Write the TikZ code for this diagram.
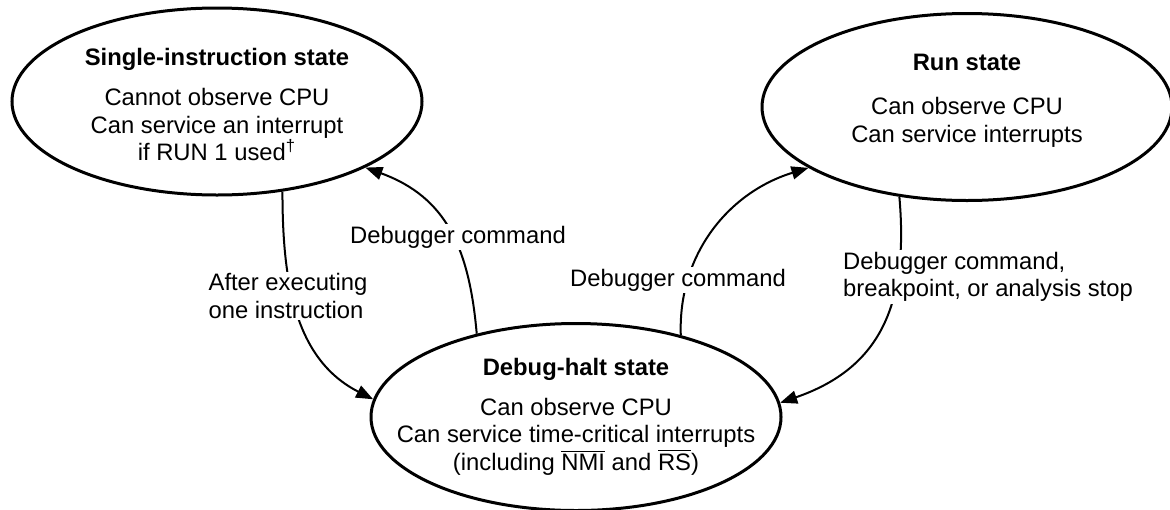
\documentclass[tikz,border=0pt]{standalone}
\usepackage{fontspec}
\setmainfont{Liberation Sans}
\usetikzlibrary{shapes.geometric, arrows.meta}

\begin{document}
\begin{tikzpicture}[x=0.5pt, y=-0.5pt, >={Triangle[length=8.5pt, width=6.5pt]},
  every node/.style={font=\fontsize{11.9}{13.75}\selectfont},
  state/.style={ellipse, draw, line width=1.5pt, inner sep=0pt, minimum width=205pt, minimum height=93.5pt},
  trans/.style={->, line width=1pt},
  lbl/.style={fill=white, inner sep=1pt, align=center}]
  \useasboundingbox (0,0) rectangle (1170,509);
  % States
  \node[state] (single) at (217,101.5) {};
  \node[state] (run) at (967,107) {};
  \node[state] (debug) at (576,417) {};
  % State texts
  \node[align=center] (singletxt) at (217,104.5) {\textbf{Single-instruction state}\\[6.25pt]
    Cannot observe CPU\\ Can service an interrupt\\ if RUN 1 used\textsuperscript{†}};
  \node[align=center] (runtxt) at (967,101) {\textbf{Run state}\\[8.25pt]
    Can observe CPU\\ Can service interrupts};
  \node[align=center] (debugtxt) at (576,416.5) {\textbf{Debug-halt state}\\[6.25pt]
    Can observe CPU\\ Can service time-critical interrupts\\
    (including $\overline{\mbox{NMI}}$ and $\overline{\mbox{RS}}$)};
  % Transitions
  \draw[trans] (single.-54) to[out=-90, in=153] (debug.175);
  \draw[trans] (debug.140.5) to[out=95, in=-20, looseness=1.1] (single.-24);
  \draw[trans] (debug.38.4) to[out=92, in=197] (run.201.3);
  \draw[trans] (run.-127.5) to[out=-85, in=19, looseness=1.15] (debug.4.8);
  % Labels
  \node[lbl, align=left] (afterlbl) at (288,296) {After executing\\one instruction};
  \node[lbl] (cmdleft) at (458,237) {Debugger command};
  \node[lbl] (cmdright) at (678,280) {Debugger command};
  \node[lbl, align=left] (stoplbl) at (988,277) {Debugger command,\\breakpoint, or analysis stop};
\end{tikzpicture}
\end{document}
